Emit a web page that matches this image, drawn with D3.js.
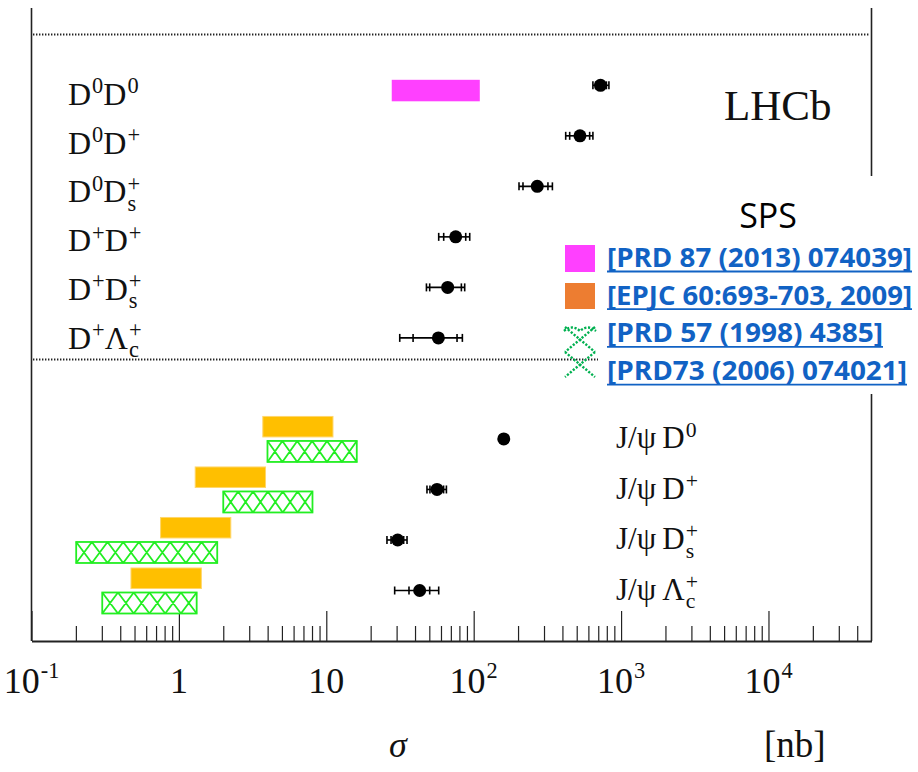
<!DOCTYPE html>
<html><head><meta charset="utf-8">
<script src="https://cdn.jsdelivr.net/npm/d3@7"></script>
<style>body{margin:0;background:#fff} svg{display:block}</style>
</head><body><svg id="c" width="918" height="772"></svg>
<script>
// ---------------- data ----------------
const categories = ["D0D0","D0D+","D0Ds+","D+D+","D+Ds+","D+Λc+","J/ψD0","J/ψD+","J/ψDs+","J/ψΛc+"];
const rowIndex   = [0,1,2,3,4,5,7,8,9,10];
const categoryLabels = [
  [{t:"D"},{sup:"0"},{t:"D"},{sup:"0"}],
  [{t:"D"},{sup:"0"},{t:"D"},{sup:"+"}],
  [{t:"D"},{sup:"0"},{t:"D"},{sup:"+",sub:"s"}],
  [{t:"D"},{sup:"+"},{t:"D"},{sup:"+"}],
  [{t:"D"},{sup:"+"},{t:"D"},{sup:"+",sub:"s"}],
  [{t:"D"},{sup:"+"},{t:"Λ"},{sup:"+",sub:"c"}],
  [{t:"J/ψ\u2009D"},{sup:"0"}],
  [{t:"J/ψ\u2009D"},{sup:"+"}],
  [{t:"J/ψ\u2009D"},{sup:"+",sub:"s"}],
  [{t:"J/ψ\u2009Λ"},{sup:"+",sub:"c"}]
];
// LHCb measured cross-sections [nb]
const lhcbValue = [725, 526, 270, 75.5, 66.6, 57.6, 160, 56.4, 30.5, 43];
const statLow   = [672, 448, 216, 62.6, 50.3, 38.8, 157, 50.5, 27.5, 36.4];
const statHigh  = [795, 612, 319, 88.3, 82.5, 77.1, 164, 62.5, 33.5, 50.3];
const totalLow  = [644, 421, 203, 57.9, 47.8, 31.5, 152, 48.2, 25.8, 29.1];
const totalHigh = [827, 644, 342, 94.0, 86.9, 83.8, 168, 65.3, 35.3, 57.9];
// SPS predictions
const magentaCats = ["D0D0"];
const magentaLow  = [27.8];
const magentaHigh = [110];
const amberCats = ["J/ψD0","J/ψD+","J/ψDs+","J/ψΛc+"];
const amberLow  = [3.71, 1.29, 0.751, 0.473];
const amberHigh = [11.1, 3.87, 2.25, 1.42];
const hatchCats = ["J/ψD0","J/ψD+","J/ψDs+","J/ψΛc+"];
const hatchLow  = [3.99, 2.0, 0.201, 0.302];
const hatchHigh = [16.1, 8.06, 1.82, 1.32];
// axis
const xDomain = [0.1, 5e4];
const majorTicks = [0.1, 1, 10, 100, 1000, 10000];
const tickBase = ["10","1","10","10","10","10"];
const tickExp  = ["-1","","","2","3","4"];
// legend
const legendTitle = "SPS";
const legendTexts = ["[PRD 87 (2013) 074039]","[EPJC 60:693-703, 2009]","[PRD 57 (1998) 4385]","[PRD73 (2006) 074021]"];
const legendWidths = [305, 305, 276, 300];

// ---------------- drawing ----------------
const svg = d3.select("#c");
const SERIF = "'Liberation Serif','Times New Roman',serif";
const x = d3.scaleLog().domain(xDomain).range([31.5, 871.5]);
const y = d3.scaleLinear().domain([0, 10]).range([85.3, 590.5]);
const rowY = c => y(rowIndex[categories.indexOf(c)]);
const axisY = 641;

// frame
const frame = svg.append("g").attr("stroke", "#222").attr("stroke-width", 1.6);
frame.append("line").attr("x1", 31.5).attr("x2", 31.5).attr("y1", 8).attr("y2", axisY);
frame.append("line").attr("x1", 871.5).attr("x2", 871.5).attr("y1", 8).attr("y2", axisY);
const dots = svg.append("g").attr("stroke", "#222").attr("stroke-width", 2).attr("stroke-dasharray", "1.4,1.6");
dots.append("line").attr("x1", 33).attr("x2", 870).attr("y1", 34.5).attr("y2", 34.5);
dots.append("line").attr("x1", 33).attr("x2", 870).attr("y1", 359.5).attr("y2", 359.5);

// axis
const minor = [];
for (let e = -1; e <= 4; e++) for (let m = 2; m <= 9; m++) { const v = m * Math.pow(10, e); if (v < xDomain[1]) minor.push(v); }
const gAx = svg.append("g").attr("transform", `translate(0,${axisY})`);
gAx.call(d3.axisBottom(x).tickValues(majorTicks).tickSizeInner(-30).tickSizeOuter(0).tickFormat(""));
const gMin = svg.append("g").attr("transform", `translate(0,${axisY})`);
gMin.call(d3.axisBottom(x).tickValues(minor).tickSizeInner(-15).tickSizeOuter(0).tickFormat(""));
gMin.select(".domain").remove();
gAx.select(".domain").attr("stroke", "#222").attr("stroke-width", 2);
svg.selectAll(".tick line").attr("stroke", "#222").attr("stroke-width", 1.2);

// rich text helper
function rich(g, x0, y0, tokens, size, anchor, supScale, supRise) {
  supScale = supScale || 0.7; supRise = supRise || 0.36;
  const grp = g.append("g").attr("font-family", SERIF).attr("fill", "#111");
  let cx = 0;
  tokens.forEach(tk => {
    if (tk.t !== undefined) {
      const t = grp.append("text").attr("x", cx).attr("y", 0).attr("font-size", size).text(tk.t);
      cx += t.node().getComputedTextLength();
    } else {
      let w = 0;
      const s = size * supScale;
      if (tk.sup) { const t = grp.append("text").attr("x", cx + 1).attr("y", -size * supRise).attr("font-size", s).text(tk.sup); w = Math.max(w, t.node().getComputedTextLength() + 1); }
      if (tk.sub) { const t = grp.append("text").attr("x", cx + 1).attr("y", size * 0.27).attr("font-size", s).text(tk.sub); w = Math.max(w, t.node().getComputedTextLength() + 1); }
      cx += w;
    }
  });
  const dx = anchor === "middle" ? -cx / 2 : 0;
  grp.attr("transform", `translate(${x0 + dx},${y0})`);
  return grp;
}

// tick labels
majorTicks.forEach((v, i) => {
  const tk = [{t: tickBase[i]}];
  if (tickExp[i]) tk.push({sup: tickExp[i]});
  rich(svg, x(v), 693, tk, 36, "middle", 0.62, 0.42);
});
// axis titles
svg.append("text").attr("x", 398).attr("y", 757).attr("text-anchor", "middle").attr("font-family", SERIF)
  .attr("font-style", "italic").attr("font-size", 36).attr("fill", "#111").text("σ");
svg.append("text").attr("x", 764).attr("y", 757).attr("font-family", SERIF)
  .attr("font-size", 37).attr("fill", "#111").text("[nb]");

// magenta bars
svg.append("g").selectAll("rect").data(magentaCats).join("rect")
  .attr("x", (c, i) => x(magentaLow[i])).attr("width", (c, i) => x(magentaHigh[i]) - x(magentaLow[i]))
  .attr("y", c => rowY(c) - 5.5).attr("height", 21.5).attr("fill", "#FF40FF");
// amber bars
svg.append("g").selectAll("rect").data(amberCats).join("rect")
  .attr("x", (c, i) => x(amberLow[i])).attr("width", (c, i) => x(amberHigh[i]) - x(amberLow[i]))
  .attr("y", c => rowY(c) - 22.5).attr("height", 20.5).attr("fill", "#FFBF00")
  .attr("stroke", "#FFD66B").attr("stroke-width", 1);
// hatched bars
const hg = svg.append("g").attr("stroke", "#22EE22").attr("stroke-width", 1.8).attr("fill", "none");
hatchCats.forEach((c, i) => {
  const x0 = x(hatchLow[i]), x1 = x(hatchHigh[i]), y0 = rowY(c) + 2, h = 21;
  hg.append("rect").attr("x", x0).attr("y", y0).attr("width", x1 - x0).attr("height", h).attr("fill", "#fff");
  const n = Math.max(1, Math.round((x1 - x0) / 15));
  const cw = (x1 - x0) / n;
  const p = d3.path();
  for (let k = 0; k < n; k++) {
    const a = x0 + k * cw;
    p.moveTo(a, y0); p.lineTo(a + cw, y0 + h);
    p.moveTo(a + cw, y0); p.lineTo(a, y0 + h);
  }
  hg.append("path").attr("d", p.toString());
});

// LHCb points with error bars
const eg = svg.append("g").attr("stroke", "#000").attr("stroke-width", 1.6);
categories.forEach((c, i) => {
  const yy = rowY(c);
  eg.append("line").attr("x1", x(totalLow[i])).attr("x2", x(totalHigh[i])).attr("y1", yy).attr("y2", yy);
  [totalLow[i], totalHigh[i], statLow[i], statHigh[i]].forEach(v => {
    eg.append("line").attr("x1", x(v)).attr("x2", x(v)).attr("y1", yy - 4).attr("y2", yy + 4);
  });
});
svg.append("g").selectAll("circle").data(categories).join("circle")
  .attr("cx", (c, i) => x(lhcbValue[i])).attr("cy", c => rowY(c)).attr("r", 6.5).attr("fill", "#000");

// category labels
categories.forEach((c, i) => {
  const r = rowIndex[i];
  if (r < 6) rich(svg, 68, 105 + r * 48.7, categoryLabels[i], 32, "start");
  else rich(svg, 616, rowY(c) + 9.5, categoryLabels[i], 31, "start");
});
svg.append("text").attr("x", 724).attr("y", 120).attr("font-family", SERIF).attr("font-size", 43)
  .attr("fill", "#111").text("LHCb");

// legend panel
svg.append("rect").attr("x", 598).attr("y", 176).attr("width", 320).attr("height", 218).attr("fill", "#fff");
svg.append("text").attr("x", 768).attr("y", 228).attr("text-anchor", "middle")
  .attr("font-family", "'Open Sans',sans-serif").attr("font-size", 34).attr("fill", "#000").text(legendTitle);
svg.append("rect").attr("x", 565).attr("y", 245).attr("width", 30).attr("height", 27).attr("fill", "#FF40FF");
svg.append("rect").attr("x", 565).attr("y", 283).attr("width", 30).attr("height", 26).attr("fill", "#ED7D31");
const lp = d3.path();
[[327, 352], [352, 377]].forEach(([a, b]) => {
  lp.moveTo(565, a); lp.lineTo(595, b); lp.moveTo(595, a); lp.lineTo(565, b);
});
lp.moveTo(564, 331); lp.quadraticCurveTo(572, 324, 580, 331); lp.quadraticCurveTo(588, 324, 596, 331);
svg.append("path").attr("d", lp.toString()).attr("fill", "none").attr("stroke", "#00B050")
  .attr("stroke-width", 2.4).attr("stroke-dasharray", "2.2,1.6");
legendTexts.forEach((t, i) => {
  const by = 267 + i * 37.7;
  svg.append("text").attr("x", 607).attr("y", by).attr("font-family", "'Open Sans',sans-serif")
    .attr("font-weight", 700).attr("font-size", 26).attr("fill", "#1162C4")
    .attr("textLength", legendWidths[i]).attr("lengthAdjust", "spacingAndGlyphs").text(t);
  svg.append("line").attr("x1", 607).attr("x2", 607 + legendWidths[i]).attr("y1", by + 4.5).attr("y2", by + 4.5)
    .attr("stroke", "#1162C4").attr("stroke-width", 1.8);
});
</script></body></html>
